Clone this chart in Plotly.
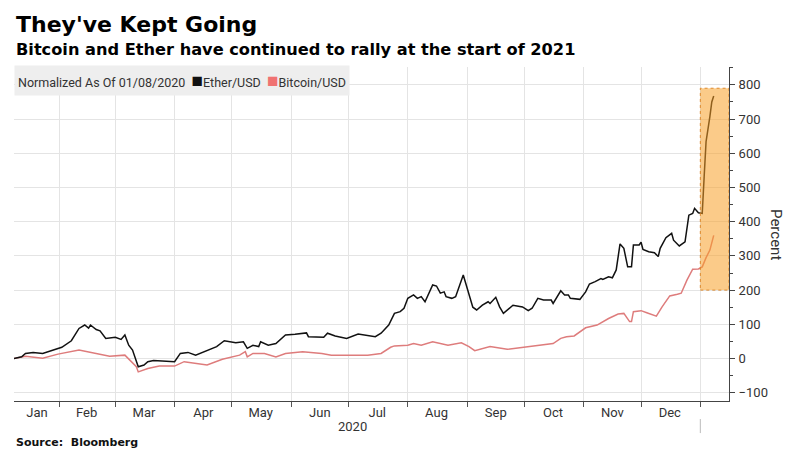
import plotly.graph_objects as go
import pandas as pd

# ---------------- data ----------------
ether_dates = [
    "2020-01-08", "2020-01-12", "2020-01-14", "2020-01-18", "2020-01-23", "2020-01-28",
    "2020-02-02", "2020-02-07", "2020-02-11", "2020-02-14", "2020-02-16", "2020-02-17",
    "2020-02-20", "2020-02-22", "2020-02-25", "2020-03-01", "2020-03-04", "2020-03-06",
    "2020-03-08", "2020-03-10", "2020-03-12", "2020-03-13", "2020-03-16", "2020-03-18",
    "2020-03-21", "2020-03-26", "2020-04-01", "2020-04-04", "2020-04-08", "2020-04-12",
    "2020-04-18", "2020-04-23", "2020-04-27", "2020-05-03", "2020-05-07", "2020-05-09",
    "2020-05-12", "2020-05-15", "2020-05-16", "2020-05-20", "2020-05-24", "2020-05-29",
    "2020-06-03", "2020-06-09", "2020-06-10", "2020-06-18", "2020-06-20", "2020-06-24",
    "2020-06-30", "2020-07-06", "2020-07-15", "2020-07-18", "2020-07-22", "2020-07-25",
    "2020-07-28", "2020-07-30", "2020-08-01", "2020-08-04", "2020-08-06", "2020-08-08",
    "2020-08-10", "2020-08-14", "2020-08-16", "2020-08-18", "2020-08-20", "2020-08-21",
    "2020-08-24", "2020-08-26", "2020-08-30", "2020-08-31", "2020-09-02", "2020-09-04",
    "2020-09-06", "2020-09-09", "2020-09-12", "2020-09-13", "2020-09-16", "2020-09-18",
    "2020-09-20", "2020-09-25", "2020-09-30", "2020-10-03", "2020-10-05", "2020-10-08",
    "2020-10-11", "2020-10-15", "2020-10-16", "2020-10-20", "2020-10-22", "2020-10-24",
    "2020-10-25", "2020-10-30", "2020-11-02", "2020-11-04", "2020-11-07", "2020-11-10",
    "2020-11-11", "2020-11-14", "2020-11-16", "2020-11-18", "2020-11-20", "2020-11-22",
    "2020-11-24", "2020-11-26", "2020-11-27", "2020-11-30", "2020-12-01", "2020-12-02",
    "2020-12-05", "2020-12-08", "2020-12-10", "2020-12-11", "2020-12-14", "2020-12-17",
    "2020-12-18", "2020-12-21", "2020-12-24", "2020-12-26", "2020-12-28", "2020-12-29",
    "2020-12-31", "2021-01-02", "2021-01-03", "2021-01-04", "2021-01-06", "2021-01-07",
    "2021-01-08",
]
ether_values = [
    0, 5, 15, 18, 15, 23,
    33, 52, 88, 98, 89, 98,
    85, 81, 59, 62, 56, 69,
    39, 25, -9, -24, -19, -9,
    -6, -7, -9, 15, 18, 10,
    23, 35, 52, 46, 49, 30,
    39, 35, 49, 39, 44, 69,
    71, 75, 64, 62, 74, 66,
    59, 72, 64, 74, 98, 132,
    137, 147, 176, 186, 176, 181,
    166, 215, 212, 191, 195, 181,
    176, 181, 244, 225, 191, 150,
    142, 156, 166, 161, 179, 151,
    132, 156, 151, 140, 147, 176,
    171, 171, 161, 198, 186, 186,
    176, 173, 195, 218, 225, 234,
    231, 239, 236, 259, 335, 322,
    268, 268, 332, 332, 340, 319,
    312, 309, 298, 322, 353, 366,
    346, 329, 341, 419, 424, 439,
    426, 424, 531, 634, 707, 750,
    767,
]

btc_dates = [
    "2020-01-08", "2020-01-14", "2020-01-23", "2020-01-31", "2020-02-11", "2020-02-16",
    "2020-02-27", "2020-03-06", "2020-03-12", "2020-03-13", "2020-03-18", "2020-03-24",
    "2020-04-01", "2020-04-06", "2020-04-18", "2020-04-26", "2020-05-05", "2020-05-08",
    "2020-05-09", "2020-05-12", "2020-05-18", "2020-05-24", "2020-05-29", "2020-06-07",
    "2020-06-17", "2020-06-22", "2020-07-03", "2020-07-11", "2020-07-18", "2020-07-23",
    "2020-07-25", "2020-08-01", "2020-08-04", "2020-08-08", "2020-08-14", "2020-08-22",
    "2020-08-29", "2020-09-02", "2020-09-05", "2020-09-13", "2020-09-22", "2020-10-01",
    "2020-10-08", "2020-10-16", "2020-10-20", "2020-10-23", "2020-10-27", "2020-11-02",
    "2020-11-08", "2020-11-14", "2020-11-19", "2020-11-22", "2020-11-25", "2020-11-26",
    "2020-11-27", "2020-12-01", "2020-12-04", "2020-12-09", "2020-12-12", "2020-12-16",
    "2020-12-20", "2020-12-22", "2020-12-25", "2020-12-28", "2020-12-31", "2021-01-02",
    "2021-01-04", "2021-01-06", "2021-01-08",
]
btc_values = [
    0, 7, 1, 13, 25, 20,
    7, 10, -24, -39, -29, -22,
    -22, -9, -19, -2, 10, 20,
    5, 15, 15, 5, 15, 20,
    15, 10, 10, 10, 15, 33,
    37, 39, 44, 39, 49, 39,
    46, 35, 23, 35, 27, 33,
    39, 44, 59, 64, 66, 90,
    98, 117, 130, 132, 108, 108,
    137, 140, 134, 124, 151, 183,
    188, 191, 229, 261, 262, 268,
    295, 317, 360,
]

month_starts = ["2020-02-01", "2020-03-01", "2020-04-01", "2020-05-01", "2020-06-01",
                "2020-07-01", "2020-08-01", "2020-09-01", "2020-10-01", "2020-11-01",
                "2020-12-01", "2021-01-01"]
month_label_pos = ["2020-01-20", "2020-02-15", "2020-03-16", "2020-04-16", "2020-05-16",
                   "2020-06-16", "2020-07-16", "2020-08-16", "2020-09-16", "2020-10-16",
                   "2020-11-16", "2020-12-16"]
month_labels = ["Jan", "Feb", "Mar", "Apr", "May", "Jun", "Jul", "Aug", "Sep", "Oct", "Nov", "Dec"]
y_ticks = [-100, 0, 100, 200, 300, 400, 500, 600, 700, 800]

x_range = ["2020-01-08", "2021-01-16"]
y_range = [-124, 852]
highlight_x = ["2021-01-01", x_range[1]]
highlight_y = [200, 790]

# ---------------- figure ----------------
ETHER_COLOR = "#111111"
BTC_COLOR = "#DE7C7C"
TICK_FONT = dict(family="Liberation Sans Narrow, Roboto, sans-serif", size=13, color="#333333")

fig = go.Figure()
fig.add_trace(go.Scatter(x=pd.to_datetime(btc_dates), y=btc_values, mode="lines",
                         line=dict(color=BTC_COLOR, width=1.5), name="Bitcoin/USD",
                         showlegend=False))
fig.add_trace(go.Scatter(x=pd.to_datetime(ether_dates), y=ether_values, mode="lines",
                         line=dict(color=ETHER_COLOR, width=1.5), name="Ether/USD",
                         showlegend=False))
# invisible trace carrying month labels on the secondary x axis
fig.add_trace(go.Scatter(x=[x_range[0]], y=[None], xaxis="x2", showlegend=False,
                         hoverinfo="skip"))

fig.add_shape(type="rect", xref="x", yref="y",
              x0=highlight_x[0], x1=highlight_x[1], y0=highlight_y[0], y1=highlight_y[1],
              fillcolor="rgba(247,160,40,0.55)", layer="above",
              line=dict(color="rgba(220,130,30,0.9)", width=1, dash="dot"))

# year divider
fig.add_shape(type="line", xref="x", yref="paper", x0="2021-01-01", x1="2021-01-01",
              y0=-0.054, y1=-0.096, line=dict(color="#BBBBBB", width=1))

fig.update_layout(
    width=794, height=472,
    margin=dict(l=14, r=65, t=67, b=71),
    paper_bgcolor="white", plot_bgcolor="white",
    showlegend=False,
    xaxis=dict(type="date", range=x_range, tickvals=month_starts, showticklabels=False,
               ticks="outside", ticklen=5, tickcolor="#555555",
               showgrid=True, gridcolor="#E4E4E4", gridwidth=1,
               showline=True, linecolor="#444444", linewidth=1, zeroline=False),
    xaxis2=dict(type="date", range=x_range, overlaying="x", side="bottom", anchor="y",
                tickvals=month_label_pos, ticktext=month_labels, ticks="",
                showgrid=False, showline=False, zeroline=False, tickfont=TICK_FONT,
                ticklabelstandoff=2),
    yaxis=dict(range=y_range, side="right", tickvals=y_ticks, ticks="outside", ticklen=5,
               tickcolor="#444444", showgrid=True, gridcolor="#E4E4E4", gridwidth=1,
               showline=True, linecolor="#444444", linewidth=1, zeroline=False,
               tickfont=TICK_FONT, ticklabelstandoff=1,
               minor=dict(dtick=50, tick0=0, ticks="outside", ticklen=3,
                          tickcolor="#444444", showgrid=False)),
)

annotations = [
    dict(text="<b>They've Kept Going</b>", x=0, y=1.1287, xref="paper", yref="paper",
         xanchor="left", yanchor="middle", showarrow=False,
         font=dict(family="DejaVu Sans", size=22, color="#000000")),
    dict(text="<b>Bitcoin and Ether have continued to rally at the start of 2021</b>",
         x=0, y=1.0509, xref="paper", yref="paper", xanchor="left", yanchor="middle",
         showarrow=False, font=dict(family="DejaVu Sans", size=16.2, color="#000000")),
    dict(text=("Normalized As Of 01/08/2020  <span style='color:%s;font-size:19px'>■</span>Ether/USD  "
               "<span style='color:#F07272;font-size:19px'>■</span>Bitcoin/USD" % ETHER_COLOR),
         x=0, y=0.961, xref="paper", yref="paper", xanchor="left", yanchor="middle",
         showarrow=False, bgcolor="#EEEEEE", borderpad=3,
         font=dict(family="Liberation Sans Narrow, Roboto, sans-serif", size=12.5, color="#333333")),
    dict(text="Percent", x=1.0657, y=0.497, xref="paper", yref="paper", textangle=90,
         xanchor="center", yanchor="middle", showarrow=False,
         font=dict(family="Liberation Sans Narrow, Roboto, sans-serif", size=15, color="#333333")),
    dict(text="2020", x="2020-07-03", y=-0.0778, xref="x", yref="paper",
         xanchor="center", yanchor="middle", showarrow=False, font=TICK_FONT),
    dict(text="<b>Source:  Bloomberg</b>", x=0, y=-0.1228, xref="paper", yref="paper",
         xanchor="left", yanchor="middle", showarrow=False,
         font=dict(family="DejaVu Sans", size=11, color="#111111")),
]
fig.update_layout(annotations=annotations)

fig.write_html("out.html", config={"displayModeBar": False},
               post_script="document.body.style.margin='0px';document.body.style.overflow='hidden';")
